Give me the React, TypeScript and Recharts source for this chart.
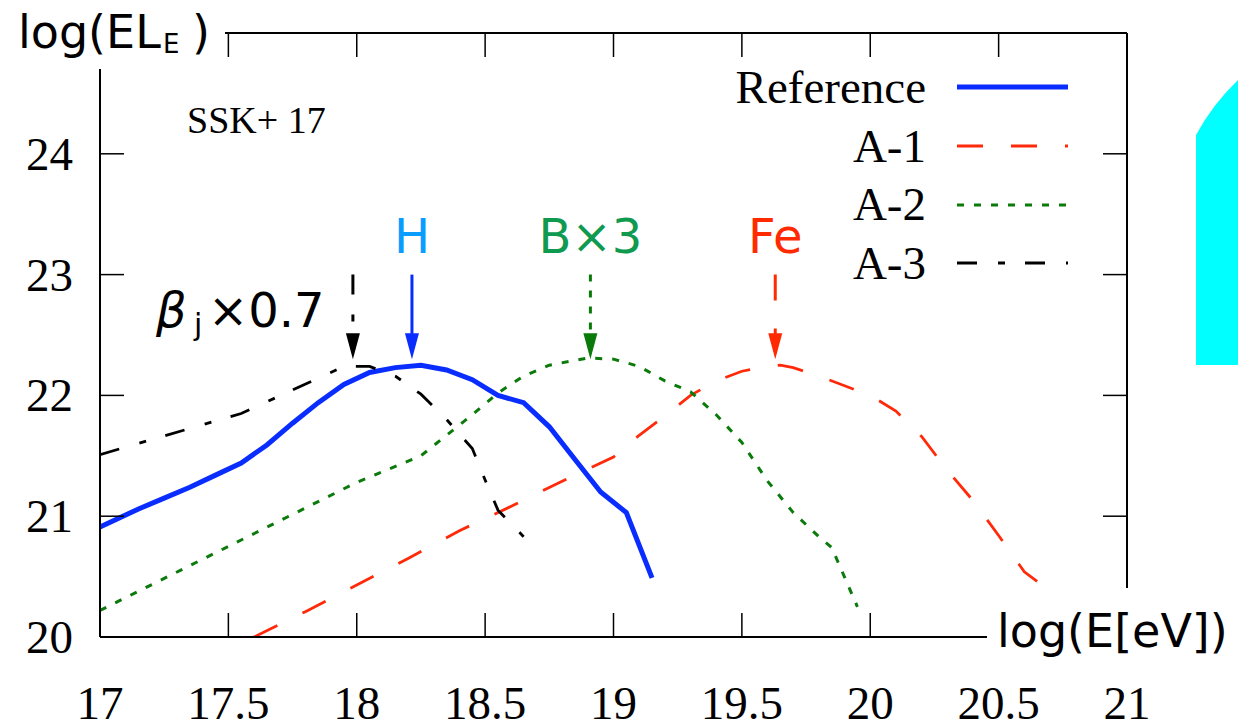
import React from 'react';
import { LineChart, Line, XAxis, YAxis, ReferenceLine, Legend } from 'recharts';

const xTicks = [17, 17.5, 18, 18.5, 19, 19.5, 20, 20.5, 21];
const yTicks = [20, 21, 22, 23, 24];

// [log E, log(EL_E)]
const referenceCurve: [number, number][] = [
    [17.0, 20.91], [17.15, 21.06], [17.25, 21.15], [17.35, 21.24], [17.45, 21.34],
    [17.55, 21.44], [17.65, 21.59], [17.75, 21.77], [17.85, 21.94], [17.95, 22.09],
    [18.05, 22.19], [18.15, 22.23], [18.25, 22.25], [18.35, 22.21], [18.45, 22.13],
    [18.55, 22.0], [18.65, 21.94], [18.75, 21.74], [18.85, 21.47], [18.95, 21.2],
    [19.05, 21.03], [19.15, 20.49],
];

const a1Curve: [number, number][] = [
    [17.6, 20.0], [17.8, 20.21], [18.0, 20.43], [18.2, 20.65], [18.4, 20.88],
    [18.6, 21.08], [18.8, 21.29], [19.0, 21.49], [19.1, 21.67], [19.2, 21.83],
    [19.3, 22.0], [19.4, 22.12], [19.5, 22.2], [19.6, 22.24], [19.65, 22.25],
    [19.7, 22.23], [19.8, 22.16], [19.9, 22.08], [20.0, 22.0], [20.1, 21.87],
    [20.2, 21.66], [20.3, 21.38], [20.4, 21.13], [20.5, 20.84], [20.6, 20.54],
    [20.65, 20.46],
];

const a2Curve: [number, number][] = [
    [17.0, 20.22], [17.5, 20.75], [18.0, 21.28], [18.25, 21.5], [18.45, 21.84],
    [18.55, 22.02], [18.65, 22.16], [18.75, 22.25], [18.9, 22.31], [19.0, 22.3],
    [19.1, 22.24], [19.2, 22.12], [19.3, 22.03], [19.4, 21.84], [19.5, 21.61],
    [19.6, 21.29], [19.7, 21.03], [19.8, 20.83], [19.85, 20.74], [19.95, 20.25],
];

const a3Curve: [number, number][] = [
    [17.0, 21.51], [17.55, 21.85], [17.95, 22.24], [18.05, 22.24], [18.15, 22.16],
    [18.25, 22.01], [18.35, 21.8], [18.45, 21.56], [18.5, 21.3], [18.55, 21.05],
    [18.65, 20.83],
];

const series = [
    { name: 'Reference', data: referenceCurve, color: '#0a2dff', width: 5, dash: undefined },
    { name: 'A-1', data: a1Curve, color: '#ff2a0a', width: 2.8, dash: '26 28' },
    { name: 'A-2', data: a2Curve, color: '#0a7a0a', width: 3, dash: '7 10' },
    { name: 'A-3', data: a3Curve, color: '#000000', width: 2.8, dash: '20 21 7 20' },
];

// peak markers (arrows from log(EL_E)=23 down to the peak)
const peakMarks = [
    { label: '', x: 17.985, labelColor: '#000', color: '#000000', dash: '20 20 7 20' },
    { label: 'H', x: 18.215, labelColor: '#0a9cff', color: '#0a2dff', dash: undefined },
    { label: 'B×3', x: 18.91, labelColor: '#109a50', color: '#0a7a0a', dash: '7 9' },
    { label: 'Fe', x: 19.63, labelColor: '#ff2a00', color: '#ff2a00', dash: '26 28' },
];
const arrowTop = 23;
const arrowTip = 22.3;

const serif = '"Liberation Serif", "Times New Roman", serif';
const sans = '"DejaVu Sans", sans-serif';

const toPoints = (d: [number, number][]) => d.map(([x, y]) => ({ x, y }));

const BottomTick = ({ x, y, payload }: any) => (
    <g>
        <line x1={x} y1={y} x2={x} y2={y - 24} stroke="#000" strokeWidth={1.5} />
        <text x={x} y={y + 82} textAnchor="middle" fontFamily={serif} fontSize={47} fill="#000">
            {payload.value}
        </text>
    </g>
);

const TopTick = ({ x, y }: any) => (
    <line x1={x} y1={y} x2={x} y2={y + 24} stroke="#000" strokeWidth={1.5} />
);

const LeftTick = ({ x, y, payload }: any) => (
    <g>
        <line x1={x} y1={y} x2={x + 24} y2={y} stroke="#000" strokeWidth={1.5} />
        <text x={x - 27} y={y + 16} textAnchor="end" fontFamily={serif} fontSize={47} fill="#000">
            {payload.value}
        </text>
    </g>
);

const RightTick = ({ x, y }: any) => (
    <line x1={x - 24} y1={y} x2={x} y2={y} stroke="#000" strokeWidth={1.5} />
);

function renderArrow(mark: typeof peakMarks[number]) {
    return (p: any) => {
        const { x1, y1, y2 } = p;
        return (
            <g>
                <line x1={x1} y1={y1} x2={x1} y2={y2 - 22} stroke={mark.color} strokeWidth={3}
                    strokeDasharray={mark.dash} />
                <polygon points={`${x1 - 7},${y2 - 26} ${x1 + 7},${y2 - 26} ${x1},${y2}`} fill={mark.color} />
                {mark.label && (
                    <text x={x1} y={y1 - 22} textAnchor="middle" fontFamily={sans} fontSize={48}
                        fill={mark.labelColor}>
                        {mark.label}
                    </text>
                )}
            </g>
        );
    };
}

function renderLegend(props: any) {
    const shown = new Set((props.payload || []).map((e: any) => e.value));
    return (
        <div>
            {series.filter(s => shown.has(s.name)).map(s => (
                <div key={s.name} style={{ display: 'flex', alignItems: 'center', height: 58.7 }}>
                    <span style={{ width: 226, textAlign: 'right', fontFamily: serif, fontSize: 47, lineHeight: 1, color: '#000' }}>
                        {s.name}
                    </span>
                    <svg width={111} height={10} style={{ marginLeft: 31 }}>
                        <line x1={0} y1={5} x2={111} y2={5} stroke={s.color}
                            strokeWidth={s.width} strokeDasharray={s.dash} />
                    </svg>
                </div>
            ))}
        </div>
    );
}

export default function App() {
    return (
        <div style={{ position: 'absolute', left: 0, top: 0, width: 1238, height: 726, background: '#fff' }}>
            <LineChart width={1238} height={726} margin={{ top: 32, right: 110, bottom: 0, left: 0 }}>
                <XAxis xAxisId="b" type="number" dataKey="x" domain={[17, 21]} ticks={xTicks}
                    allowDataOverflow height={89} tickSize={0} tickMargin={0} tickLine={false}
                    axisLine={{ stroke: '#000', strokeWidth: 2 }} tick={<BottomTick />} interval={0} />
                <XAxis xAxisId="t" orientation="top" type="number" dataKey="x" domain={[17, 21]} ticks={xTicks}
                    allowDataOverflow height={1} tickSize={0} tickMargin={0} tickLine={false}
                    axisLine={{ stroke: '#000', strokeWidth: 2 }} tick={<TopTick />} interval={0} />
                <YAxis yAxisId="l" type="number" domain={[20, 25]} ticks={yTicks} allowDataOverflow
                    width={100} tickSize={0} tickMargin={0} tickLine={false}
                    axisLine={{ stroke: '#000', strokeWidth: 2 }} tick={<LeftTick />} interval={0} />
                <YAxis yAxisId="r" orientation="right" type="number" domain={[20, 25]} ticks={yTicks} allowDataOverflow
                    width={1} tickSize={0} tickMargin={0} tickLine={false}
                    axisLine={{ stroke: '#000', strokeWidth: 2 }} tick={<RightTick />} interval={0} />
                <Legend layout="vertical" align="center" verticalAlign="middle" content={renderLegend}
                    wrapperStyle={{ position: 'absolute', left: 700, top: 58, width: 400, bottom: 'auto', right: 'auto' }} />
                {/* invisible series so the mirrored top/right frame axes get drawn */}
                <Line data={toPoints(referenceCurve)} dataKey="y" xAxisId="t" yAxisId="r" stroke="none"
                    dot={false} activeDot={false} legendType="none" isAnimationActive={false} />
                {series.map(s => (
                    <Line key={s.name} name={s.name} data={toPoints(s.data)} dataKey="y" xAxisId="b" yAxisId="l"
                        type="linear" dot={false} activeDot={false} stroke={s.color} strokeWidth={s.width}
                        strokeDasharray={s.dash} isAnimationActive={false} />
                ))}
                {peakMarks.map(m => (
                    <ReferenceLine key={m.x} xAxisId="b" yAxisId="l"
                        segment={[{ x: m.x, y: arrowTop }, { x: m.x, y: arrowTip }]}
                        shape={renderArrow(m)} ifOverflow="visible" />
                ))}
            </LineChart>
            <svg width={1238} height={726} style={{ position: 'absolute', left: 0, top: 0, pointerEvents: 'none' }}>
                <rect x={0} y={0} width={225} height={69} fill="#fff" />
                <text y={48} fontFamily={sans} fontSize={46} fill="#000">
                    <tspan x={18}>log(EL</tspan>
                    <tspan x={163} y={53} fontSize={26}>E</tspan>
                    <tspan x={192} y={48}>)</tspan>
                </text>
                <rect x={987} y={588} width={251} height={77} fill="#fff" />
                <text x={997} y={647} fontFamily={sans} fontSize={46} fill="#000">log(E[eV])</text>
                <text x={187} y={133} fontFamily={serif} fontSize={38} fill="#000">SSK+ 17</text>
                <text y={327} fontFamily={sans} fontSize={48} fill="#000">
                    <tspan x={156} fontStyle="italic">β</tspan>
                    <tspan x={194} y={335} fontSize={30}>j</tspan>
                    <tspan x={208} y={327}>×0.7</tspan>
                </text>
                <path d="M1196,365 L1196,135 Q1212,105 1238,80 L1238,365 Z" fill="#00ffff" />
            </svg>
        </div>
    );
}
